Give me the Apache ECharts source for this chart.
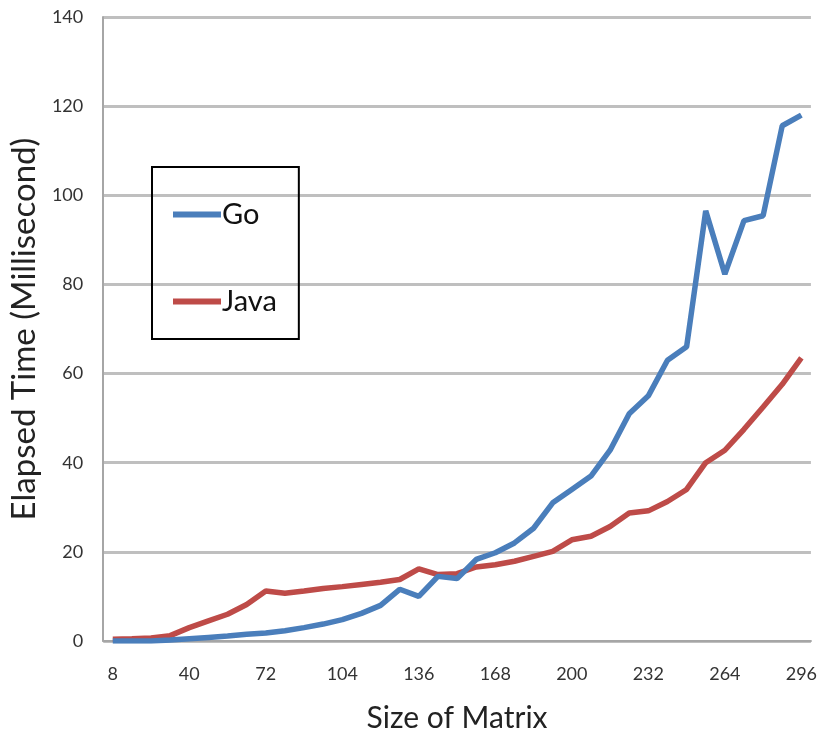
<!DOCTYPE html>
<html>
<head>
<meta charset="utf-8">
<script src="https://cdn.jsdelivr.net/npm/echarts@6/dist/echarts.min.js"></script>
<style>html,body{margin:0;padding:0;background:#fff}#c{width:820px;height:738px}</style>
</head>
<body>
<div id="c"></div>
<script>
const sizes = [8,16,24,32,40,48,56,64,72,80,88,96,104,112,120,128,136,144,152,160,168,176,184,192,200,208,216,224,232,240,248,256,264,272,280,288,296];
const goTimes = [0,0,0,0.2,0.5,0.8,1.1,1.5,1.8,2.3,3.0,3.8,4.8,6.2,8.0,11.6,10.0,14.5,14.0,18.3,19.8,22.0,25.3,31.0,34.0,37.0,42.8,51.0,55.0,63.0,66.0,96.5,82.3,94.3,95.4,115.6,118.0];
const javaTimes = [0.4,0.5,0.7,1.2,3.0,4.5,6.0,8.2,11.2,10.7,11.2,11.8,12.2,12.7,13.2,13.8,16.2,14.9,15.1,16.6,17.1,17.9,19.0,20.1,22.7,23.5,25.7,28.7,29.2,31.3,34.0,40.0,42.8,47.5,52.5,57.6,63.5];
const yTicks = [0,20,40,60,80,100,120,140];

const font = 'Lato, "Open Sans", sans-serif';
const chart = echarts.init(document.getElementById('c'), null, {renderer:'canvas'});
chart.setOption({
  animation:false,
  backgroundColor:'#fff',
  grid:{left:103,right:8,top:17,bottom:96,containLabel:false},
  legend:{
    orient:'vertical', left:152, top:167,
    padding:[33,22,23,21],
    itemGap:58, itemWidth:48, itemHeight:6, icon:'rect',
    borderColor:'#000', borderWidth:2,
    textStyle:{fontFamily:font,fontSize:29,color:'#111',padding:[0,0,0,-4]},
    data:['Go','Java']
  },
  xAxis:{
    type:'category', data:sizes, boundaryGap:true,
    name:'Size of Matrix', nameLocation:'middle', nameGap:62,
    nameTextStyle:{fontFamily:font,fontSize:30,color:'#222'},
    axisLine:{lineStyle:{color:'#a6a6a6',width:2}},
    axisTick:{show:false},
    axisLabel:{interval:3,margin:24,fontFamily:font,fontSize:18,color:'#333'}
  },
  yAxis:{
    type:'value', min:yTicks[0], max:yTicks[yTicks.length-1], interval:20,
    name:'Elapsed Time (Millisecond)', nameLocation:'middle', nameGap:58,
    nameTextStyle:{fontFamily:font,fontSize:33,color:'#222'},
    axisLine:{show:true,lineStyle:{color:'#a6a6a6',width:2}},
    axisTick:{show:false},
    axisLabel:{margin:20,fontFamily:font,fontSize:18,color:'#333',padding:[8,0,0,0]},
    splitLine:{lineStyle:{color:'#bfbfbf',width:3}}
  },
  series:[
    {name:'Go',type:'line',data:goTimes,symbol:'none',z:3,
     lineStyle:{color:'#4a7ebb',width:5.5},itemStyle:{color:'#4a7ebb'}},
    {name:'Java',type:'line',data:javaTimes,symbol:'none',z:2,
     lineStyle:{color:'#be4b48',width:5.5},itemStyle:{color:'#be4b48'}}
  ]
});
</script>
</body>
</html>
